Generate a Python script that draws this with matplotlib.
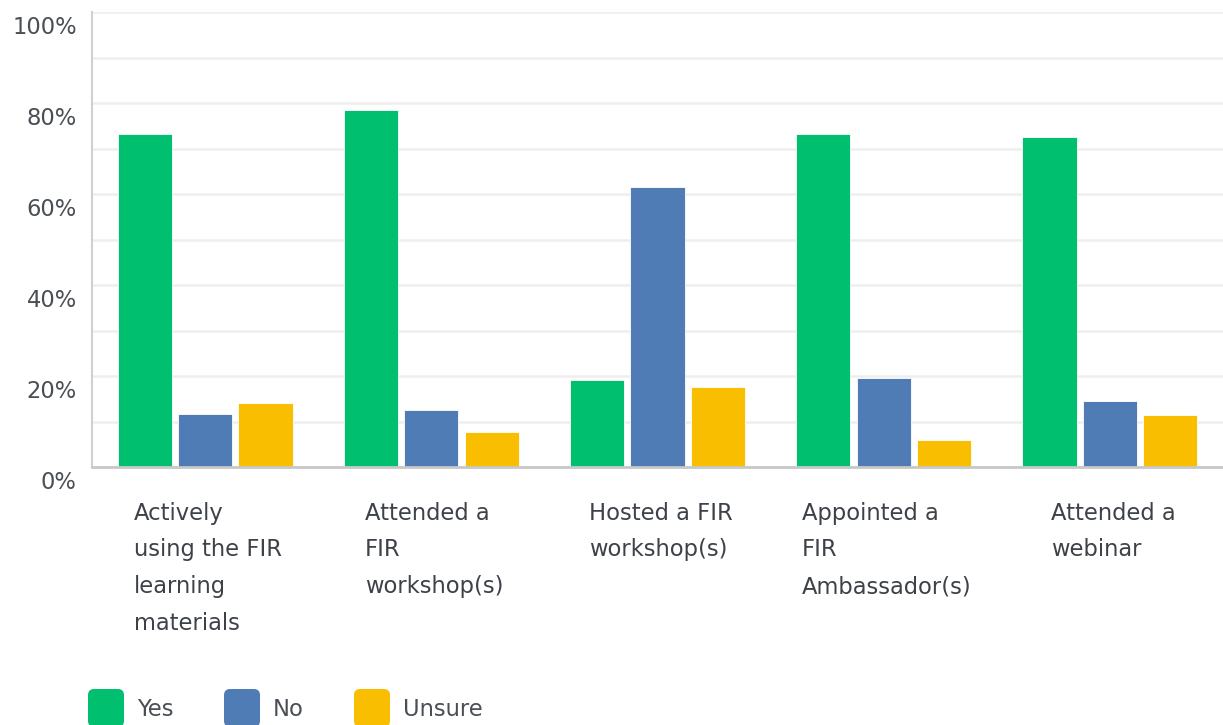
import matplotlib
matplotlib.use("Agg")
import matplotlib.pyplot as plt
import matplotlib.transforms as mtransforms
from matplotlib.patches import FancyBboxPatch
import numpy as np

categories = [
    "Actively\nusing the FIR\nlearning\nmaterials",
    "Attended a\nFIR\nworkshop(s)",
    "Hosted a FIR\nworkshop(s)",
    "Appointed a\nFIR\nAmbassador(s)",
    "Attended a\nwebinar",
]
series_names = ["Yes", "No", "Unsure"]
yes_vals = [73.1, 78.5, 19.1, 73.1, 72.5]
no_vals = [11.6, 12.5, 61.5, 19.6, 14.5]
unsure_vals = [14.1, 7.6, 17.5, 6.0, 11.5]
colors = ["#00BF6F", "#507CB6", "#F9BE00"]

plt.rcParams["font.family"] = ["DejaVu Sans"]
text_color = "#3d4249"
fs = 16.3

fig = plt.figure(figsize=(12.23, 7.25), dpi=100)
W, H = 1223, 725
ax = fig.add_axes([92 / W, 1 - 467 / H, 1 - 92 / W, (467 - 12) / H])

x = np.arange(len(categories))
width = 0.24
step = 0.267
for i, (vals, c) in enumerate(zip([yes_vals, no_vals, unsure_vals], colors)):
    ax.bar(x + (i - 1) * step, vals, width, color=c, edgecolor="#ffffff",
           linewidth=0.6, zorder=3, label=series_names[i])

ax.set_xlim(-0.5, len(categories) - 0.5)
ax.set_ylim(0, 100)

# gridlines every 10%, labels every 20%
ax.set_yticks(np.arange(0, 101, 10))
ax.set_yticklabels([f"{v}%" if v % 20 == 0 else "" for v in range(0, 101, 10)],
                   fontsize=fs, color="#4a4f55")
ax.tick_params(axis="y", length=0, pad=11)
off = mtransforms.ScaledTranslation(0, -13 / 100, fig.dpi_scale_trans)
for lab in ax.get_yticklabels():
    lab.set_transform(lab.get_transform() + off)
ax.grid(axis="y", color="#eeeeee", linewidth=1.8, zorder=0)

ax.set_xticks(x)
ax.set_xticklabels(categories, fontsize=fs, color=text_color,
                   linespacing=1.76, va="top")
ax.tick_params(axis="x", length=0, pad=25)
xoff = mtransforms.ScaledTranslation(3 / 100, 0, fig.dpi_scale_trans)
for lab in ax.get_xticklabels():
    lab.set_multialignment("left")
    lab.set_transform(lab.get_transform() + xoff)

for s in ["top", "right"]:
    ax.spines[s].set_visible(False)
ax.spines["left"].set_color("#d0d0d0")
ax.spines["left"].set_linewidth(1.5)
ax.spines["bottom"].set_color("#c8c8c8")
ax.spines["bottom"].set_linewidth(2)
ax.spines["left"].set_zorder(4)
ax.spines["bottom"].set_zorder(4)

# legend with rounded squares at the bottom
leg_x = [88, 224, 354]
for lx, name, c in zip(leg_x, series_names, colors):
    fig.patches.append(FancyBboxPatch(
        (lx / W, 1 - 727 / H), 36 / W, 38 / H,
        boxstyle="round,pad=0,rounding_size=0.005",
        transform=fig.transFigure, facecolor=c, edgecolor="none",
        mutation_aspect=W / H))
    fig.text((lx + 49) / W, 1 - 710 / H, name, fontsize=fs,
             color="#4a4f55", va="center", ha="left")

fig.savefig("out.png", dpi=100)
